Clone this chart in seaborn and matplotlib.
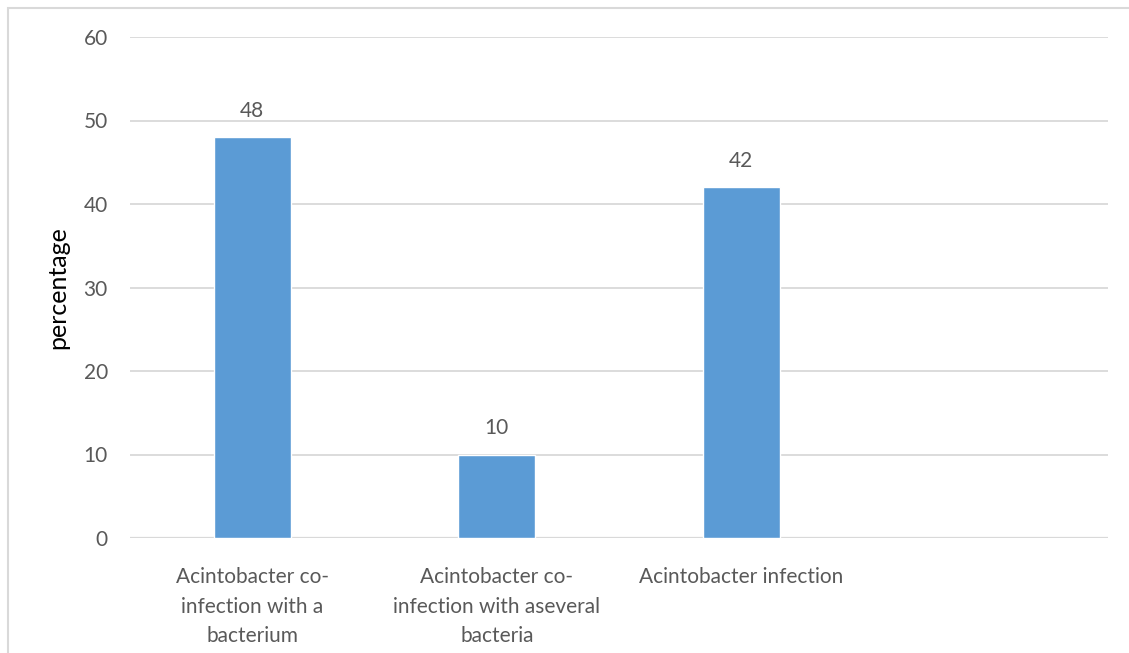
import matplotlib
matplotlib.use("Agg")
import matplotlib.pyplot as plt
import seaborn as sns
import pandas as pd
from matplotlib.patches import Rectangle

categories = [
    "Acintobacter co-\ninfection with a\nbacterium",
    "Acintobacter co-\ninfection with aseveral\nbacteria",
    "Acintobacter infection",
]
values = [48, 10, 42]
y_ticks = [0, 10, 20, 30, 40, 50, 60]

sns.set_theme(style="white")
plt.rcParams["font.family"] = ["Lato", "DejaVu Sans"]

text_color = "#595959"
grid_color = "#D9D9D9"
bar_color = "#5B9BD5"

df = pd.DataFrame({"category": categories, "value": values})

fig = plt.figure(figsize=(11.29, 6.53), dpi=100)
ax = fig.add_axes([130 / 1129, 1 - 538 / 653, 978 / 1129, 501 / 653])

sns.barplot(data=df, x="category", y="value", color=bar_color, width=0.315,
            saturation=1, ax=ax)

# four category slots on the axis, the last one empty
ax.set_xlim(-0.5, 3.5)
ax.set_ylim(0, 60)
ax.set_yticks(y_ticks)
ax.set_yticklabels([str(t) for t in y_ticks])
ax.yaxis.grid(True, color=grid_color, linewidth=1.3)
ax.set_axisbelow(True)
for s in ax.spines.values():
    s.set_visible(False)
ax.axhline(0, color=grid_color, linewidth=1.6, zorder=0.5)

ax.tick_params(axis="both", length=0, colors=text_color, labelsize=15)
ax.tick_params(axis="y", pad=16)
ax.tick_params(axis="x", pad=21)
for lbl in ax.get_xticklabels():
    lbl.set_linespacing(1.6)
    lbl.set_ha("center")

ax.set_xlabel("")
ax.set_ylabel("percentage", fontsize=18, color="black", labelpad=10)

for c in ax.containers:
    ax.bar_label(c, labels=[str(v) for v in values], padding=12,
                 color=text_color, fontsize=15)

# outer chart border
fig.patches.append(Rectangle((8 / 1129, -0.1), 1.2, 1 - 8.5 / 653 + 0.1,
                             transform=fig.transFigure, fill=False,
                             edgecolor=grid_color, linewidth=1.5))

fig.savefig("out.png", dpi=100)
